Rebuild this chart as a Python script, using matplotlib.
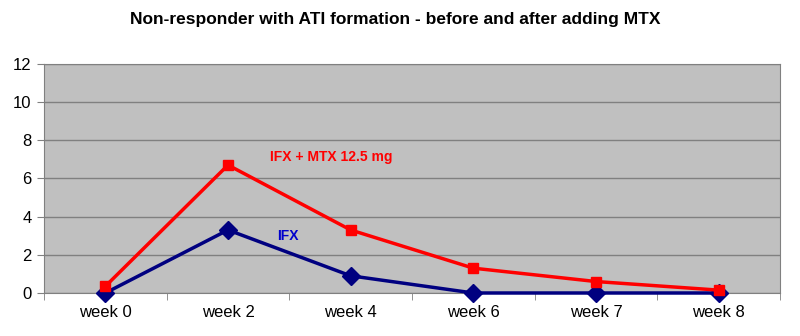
import matplotlib.pyplot as plt

# Data
weeks = ['week 0', 'week 2', 'week 4', 'week 6', 'week 7', 'week 8']
ifx = [0, 3.3, 0.9, 0, 0, 0]
ifx_mtx = [0.35, 6.7, 3.3, 1.3, 0.6, 0.15]

plt.rcParams['font.family'] = ['Liberation Sans', 'DejaVu Sans']

fig = plt.figure(figsize=(8, 3.36), dpi=100)
ax = fig.add_axes([0.055, 0.128, 0.92, 0.682])
ax.set_facecolor('#C0C0C0')

x = range(len(weeks))
ax.plot(x, ifx, color='#000080', lw=2.5, marker='D', ms=9, zorder=3, clip_on=False)
ax.plot(x, ifx_mtx, color='#FF0000', lw=2.5, marker='s', ms=7, zorder=4, clip_on=False)

ax.set_xlim(-0.5, len(weeks) - 0.5)
ax.set_ylim(0, 12)
ax.set_yticks(range(0, 13, 2))
ax.set_xticks(list(x))
ax.set_xticklabels(weeks)
ax.set_xticks([i + 0.5 for i in range(-1, len(weeks))], minor=True)
ax.tick_params(axis='x', which='major', length=0, pad=9, labelsize=12)
ax.tick_params(axis='x', which='minor', length=5, color='#808080')
ax.tick_params(axis='y', length=5, color='#808080', labelsize=12, pad=4)

ax.grid(axis='y', color='#808080', lw=1)
ax.set_axisbelow(True)
for side in ['left', 'bottom', 'top', 'right']:
    ax.spines[side].set_color('#808080')

ax.text(1.34, 6.9, 'IFX + MTX 12.5 mg', color='#FF0000', fontsize=10, fontweight='bold')
ax.text(1.4, 2.8, 'IFX', color='#0000CC', fontsize=10, fontweight='bold')

fig.suptitle('Non-responder with ATI formation - before and after adding MTX',
             x=0.494, y=0.965, fontsize=12.5, fontweight='bold')

fig.savefig('out.png', dpi=100)
